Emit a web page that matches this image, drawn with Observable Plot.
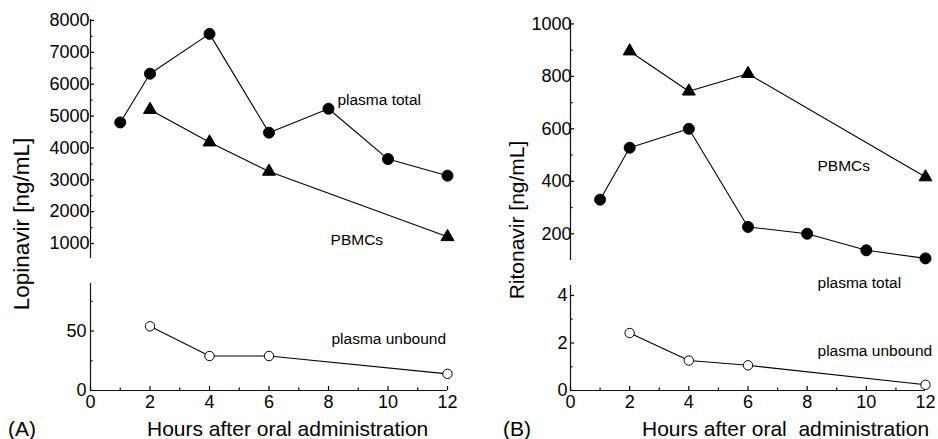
<!DOCTYPE html>
<html><head><meta charset="utf-8">
<script src="https://cdn.jsdelivr.net/npm/d3@7"></script>
<script src="https://cdn.jsdelivr.net/npm/@observablehq/plot@0.6"></script>
<style>
body{margin:0;background:#fff;}
#chart{position:relative;width:938px;height:439px;font-family:"Liberation Sans",Arial,sans-serif;color:#000;}
#chart svg{position:absolute;left:0;top:0;}
.t{position:absolute;font-size:21px;white-space:pre;line-height:1;}
.yt{position:absolute;white-space:pre;line-height:1;transform:translate(-50%,-50%) rotate(-90deg);}
</style></head><body><div id="chart"></div>
<script>
// ---- data ----
const hoursTotal = [1, 2, 4, 6, 8, 10, 12];
const hoursOther = [2, 4, 6, 12];
const lopTotal   = [4800, 6330, 7580, 4480, 5230, 3650, 3130];
const lopPBMC    = [5200, 4180, 3260, 1210];
const lopUnbound = [54, 29, 29, 14];
const ritTotal   = [330, 528, 600, 226, 200, 137, 106];
const ritPBMC    = [896, 743, 810, 416];
const ritUnbound = [2.42, 1.26, 1.06, 0.24];
const xTicks = [0, 2, 4, 6, 8, 10, 12];
const xMinor = [1, 3, 5, 7, 9, 11];
const lopUpperTicks = [1000, 2000, 3000, 4000, 5000, 6000, 7000, 8000];
const lopUpperMinor = [1500, 2500, 3500, 4500, 5500, 6500, 7500];
const lopLowerTicks = [0, 50];
const lopLowerMinor = [25, 75];
const ritUpperTicks = [200, 400, 600, 800, 1000];
const ritUpperMinor = [300, 500, 700, 900];
const ritLowerTicks = [0, 2, 4];
const ritLowerMinor = [1, 3];

const zip = (xs, ys) => xs.map((x, i) => ({x, y: ys[i]}));

const W = 938, H = 439;
const font = "'Liberation Sans', Arial, sans-serif";
const plain = d => String(d);

function panel(o) {
  const marks = [
    Plot.ruleX([0], {stroke: "#111", strokeWidth: 1.2}),
    Plot.axisY({ticks: o.yTicks, tickSize: -4, tickPadding: o.pad, tickFormat: plain, label: null, strokeWidth: 1.2}),
    Plot.axisY({ticks: o.yMinor, tickSize: -2.5, tickFormat: () => "", label: null, strokeWidth: 1.2})
  ];
  if (o.xAxis) {
    marks.push(
      Plot.ruleY([0], {stroke: "#111", strokeWidth: 1.2}),
      Plot.axisX({ticks: xTicks, tickSize: -4, tickPadding: 9, tickFormat: plain, label: null, strokeWidth: 1.2}),
      Plot.axisX({ticks: xMinor, tickSize: -2.5, tickFormat: () => "", label: null, strokeWidth: 1.2})
    );
  }
  for (const s of o.series) {
    marks.push(Plot.line(s.data, {x: "x", y: "y", stroke: "black", strokeWidth: 1.1}));
  }
  for (const s of o.series) {
    marks.push(Plot.dot(s.data, {x: "x", y: "y", symbol: s.symbol, r: s.r, fill: s.fill, stroke: "black", strokeWidth: 1}));
  }
  marks.push(Plot.text(o.labels, {x: "x", y: "y", text: "t", textAnchor: "start", fontSize: 15.5}));
  return Plot.plot({
    width: W, height: H,
    marginLeft: o.left, marginRight: o.right, marginTop: o.top, marginBottom: o.bottom,
    style: {background: "transparent", fontFamily: font, fontSize: "18px", color: "black", overflow: "visible"},
    x: {domain: [0, 12], axis: o.xAxis ? undefined : null},
    y: {domain: o.yDomain},
    marks
  });
}

const chart = document.getElementById("chart");
const filled = {symbol: "circle", r: 5.5, fill: "black"};
const tri = {symbol: "triangle", r: 4.8, fill: "black"};
const open = {symbol: "circle", r: 4.7, fill: "white"};

chart.append(panel({
  left: 90, right: W - 447, top: 19, bottom: H - 258, yDomain: [530, 8031], pad: 5,
  yTicks: lopUpperTicks, yMinor: lopUpperMinor,
  series: [{data: zip(hoursTotal, lopTotal), ...filled}, {data: zip(hoursOther, lopPBMC), ...tri}],
  labels: [{x: 8.3, y: 5490, t: "plasma total"}, {x: 8.07, y: 1100, t: "PBMCs"}]
}));
chart.append(panel({
  left: 90, right: W - 447, top: 283, bottom: H - 390, yDomain: [0, 90], pad: 8, xAxis: true,
  yTicks: lopLowerTicks, yMinor: lopLowerMinor,
  series: [{data: zip(hoursOther, lopUnbound), ...open}],
  labels: [{x: 8.1, y: 43, t: "plasma unbound"}]
}));
chart.append(panel({
  left: 570, right: W - 925, top: 20, bottom: H - 260, yDomain: [98, 1013], pad: 3,
  yTicks: ritUpperTicks, yMinor: ritUpperMinor,
  series: [{data: zip(hoursTotal, ritTotal), ...filled}, {data: zip(hoursOther, ritPBMC), ...tri}],
  labels: [{x: 8.35, y: 460, t: "PBMCs"}, {x: 8.35, y: 12, t: "plasma total"}]
}));
chart.append(panel({
  left: 570, right: W - 925, top: 285, bottom: H - 390, yDomain: [0, 4.42], pad: 7, xAxis: true,
  yTicks: ritLowerTicks, yMinor: ritLowerMinor,
  series: [{data: zip(hoursOther, ritUnbound), ...open}],
  labels: [{x: 8.35, y: 1.68, t: "plasma unbound"}]
}));

function addText(cls, txt, left, top, size) {
  const d = document.createElement("div");
  d.className = cls; d.textContent = txt;
  d.style.left = left + "px"; d.style.top = top + "px";
  if (size) d.style.fontSize = size + "px";
  chart.append(d);
}
addText("t", "(A)", 8, 418);
addText("t", "Hours after oral administration", 147, 418);
addText("t", "(B)", 503, 418);
addText("t", "Hours after oral  administration", 642, 418);
addText("yt", "Lopinavir [ng/mL]", 22, 224, 22.5);
addText("yt", "Ritonavir [ng/mL]", 516, 220, 21);
</script></body></html>
